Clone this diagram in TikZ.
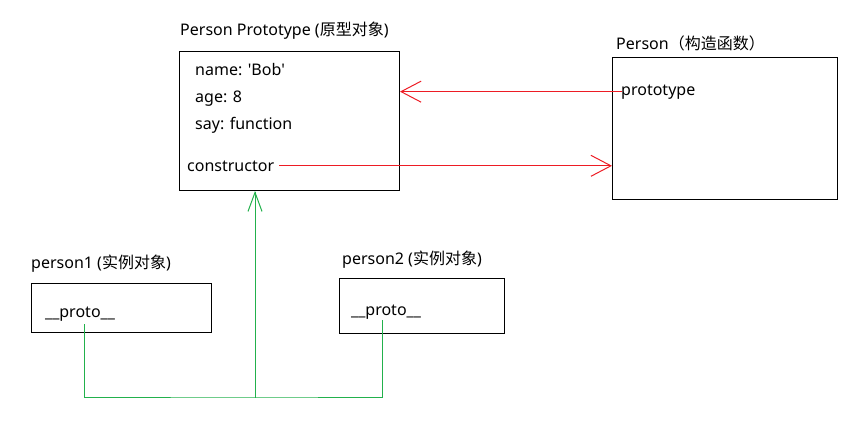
\documentclass[tikz,border=0pt]{standalone}
\usepackage{fontspec}
\setmainfont{Noto Sans}
\newfontfamily\cjk{Noto Sans CJK SC}
\usetikzlibrary{arrows.meta}
\definecolor{linkred}{HTML}{ED1C24}
\definecolor{linkgreen}{HTML}{22B14C}
\tikzset{
  ObjBox/.style={
    draw, line width=1pt,
    anchor=north west, inner sep=0pt
  },
  Label/.style={
    anchor=base west, inner sep=0pt,
    font=\fontsize{16}{19}\selectfont
  },
  RedLink/.style={
    draw=linkred, line width=1pt,
    -{Straight Barb[length=20pt,width=21pt,line width=1pt]}
  },
  GreenLink/.style={draw=linkgreen, line width=1pt}
}

\begin{document}
\begin{tikzpicture}[x=1pt, y=-1pt, line cap=rect, line join=miter]
  \useasboundingbox (0,0) rectangle (864,421);

  % prototype object
  \node[ObjBox, minimum width=220pt, minimum height=139pt] (proto) at (179,51) {};
  \node[Label] (protoTitle) at (180,35) {Person Prototype ({\cjk 原型对象})};
  \node[Label] (name) at (195,75) {name: \textquotesingle Bob\textquotesingle};
  \node[Label] (age) at (195,102) {age: 8};
  \node[Label] (say) at (195,129) {say: function};
  \node[Label] (ctor) at (187,171) {constructor};

  % constructor function
  \node[ObjBox, minimum width=225pt, minimum height=142pt] (person) at (612,57) {};
  \node[Label] (personTitle) at (616,49) {Person{\cjk （构造函数）}};
  \node[Label] (ptype) at (621,95) {prototype};

  % instances
  \node[ObjBox, minimum width=180pt, minimum height=49pt] (p1box) at (31,283) {};
  \node[Label] (p1Title) at (31,268) {person1 ({\cjk 实例对象})};
  \node[Label] (p1proto) at (45,317) {\_\_proto\_\_};

  \node[ObjBox, minimum width=165pt, minimum height=55pt] (p2box) at (339,278) {};
  \node[Label] (p2Title) at (342,264) {person2 ({\cjk 实例对象})};
  \node[Label] (p2proto) at (351,315) {\_\_proto\_\_};

  \coordinate (join) at (255,397);

  % links
  \draw[RedLink] (ptype.west) -- (proto.east |- ptype.west);
  \draw[RedLink] ([xshift=5pt]ctor.east) -- (person.west |- ctor.east);

  \draw[GreenLink] ([shift={(4pt,-3pt)}]p1proto.south) |- (join) -| ([shift={(-4pt,-1pt)}]p2proto.south);
  \draw[GreenLink, -{Straight Barb[length=19pt,width=14pt,line width=1pt]}]
    (join) -- (proto.south -| join);
\end{tikzpicture}
\end{document}
